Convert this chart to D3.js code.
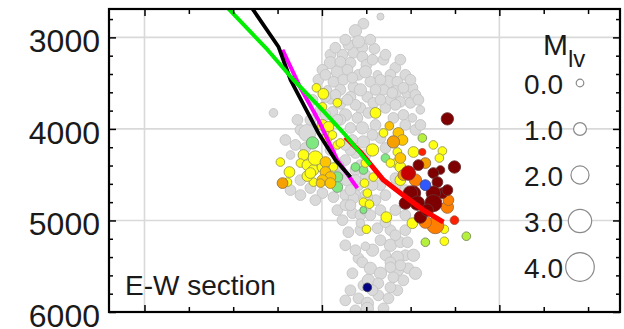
<!DOCTYPE html>
<html><head><meta charset="utf-8">
<script src="https://cdn.jsdelivr.net/npm/d3@7"></script>
<style>body{margin:0;background:#fff}svg{display:block;font-family:"Liberation Sans",Arial,sans-serif}</style>
</head><body><svg id="c" width="624" height="329"></svg>
<script>
// ---- data ----
const yTickValues = [3000, 4000, 5000, 6000];
const xGridValues = [0, 1000, 2000];
const legendMags = [0, 1, 2, 3, 4];
const legendLabels = ["0.0", "1.0", "2.0", "3.0", "4.0"];
const sectionLabel = "E-W section";
// events: [horizontal position (m), depth (m), magnitude Mlv]
const grayEvents = [
[1330,2773,-0.1],[1234,2850,0.6],[1189,2927,0.9],
[1048,3189,0.6],[1116,3189,0.6],[1178,3168,0.6],[1228,3113,0.6],[1296,3124,0.6],
[1048,3277,0.9],[1161,3277,0.6],[1228,3211,0.6],[1087,3376,0.9],[1144,3354,0.6],
[1206,3409,0.6],[1273,3485,0.6],[1313,3409,0.2],[1414,3332,0.6],[1386,3409,0.6],
[1375,3485,0.9],[1425,3485,0.6],[1065,3485,0.6],[1121,3463,0.6],[1178,3540,0.6],
[1104,3573,0.6],[1031,3573,0.2],[1347,3573,0.6],[1414,3595,0.9],[1482,3606,0.6],
[1442,3704,0.6],[1499,3715,0.6],[1256,3650,0.6],[1161,3650,0.6],[1290,3715,0.6],
[1217,3770,0.6],[1358,3770,0.6],[1104,3726,0.6],[1048,3682,0.2],
[992,3792,0.6],[1059,3814,0.6],[1132,3847,0.9],[1200,3880,0.6],[1262,3825,0.6],
[1403,3880,0.6],[1459,3847,0.6],[1510,3880,0.2],[1161,3989,0.6],[1228,3989,0.9],
[1302,3956,0.6],[1172,4121,0.6],[1234,4142,0.9],[1330,4099,0.6],[1189,4263,0.6],
[1245,4285,0.6],[1132,4340,0.6],[1189,4449,0.6],[1144,4559,0.9],[1206,4614,0.6],
[1132,4723,0.6],[1189,4723,0.6],[1330,4614,0.6],[1358,4723,0.6],[1302,4778,0.6],
[879,4011,0.6],[851,4175,0.6],[823,4285,0.2],[879,4559,0.6],[935,4646,0.6],
[1003,4701,0.6],[1065,4745,0.6],[1087,4887,0.6],[1172,4920,0.6],[1178,4756,0.6],
[1256,4745,0.6],[862,3901,0.6],[918,4044,1.8],[727,3825,0.2],
[1470,3956,0.6],[1527,4011,0.6],[1358,4208,0.6],[1285,4066,0.6],[1104,3901,0.6],
[1020,3847,0.6],[1386,3682,0.6],[1555,3792,0.2],[1217,4395,0.6],[1161,4230,0.6],
[1104,4449,0.6],[1132,4833,0.6],[1217,5106,0.6],[1386,5106,0.6],[1470,5106,0.6],
[1003,3354,0.6],[980,3463,0.6],[1251,3299,0.6],[1347,3244,0.6],[1470,3409,0.6],
[1510,3551,0.6],[1330,3682,0.6],[1189,3737,0.6],[1076,3628,0.6],[1414,3737,0.6],
[1527,3628,0.6],[1149,3080,0.6],[1273,3025,0.6],[1555,3956,0.6],[1245,4504,0.6],
[1161,4668,0.6],[1048,4230,0.6],[907,4208,0.6],[935,3901,0.6],[1414,4614,0.6],
[1217,4942,0.6],[1330,4887,0.6],[1132,5271,0.6],[1206,5413,0.6],[1470,5380,0.6],
[1425,5763,0.6],[1234,5709,0.6],[1189,5982,0.6],
[1076,3113,0.6],[1132,3025,0.6],[1206,3047,0.9],[1020,3409,0.6],[1104,3266,0.6],
[1285,3244,0.6],[1358,3189,0.6],[1442,3244,0.6],[1499,3463,0.6],[1544,3682,0.6],
[1020,3650,0.6],[1217,3573,0.9],[1302,3573,0.6],[1144,3682,0.6],[1397,3606,0.6],
[1459,3551,0.6],[1245,3376,0.9],[1172,3441,0.6],[1330,3463,0.6],[947,3682,0.6],
[1414,4537,0.6],[1470,4668,0.6],[1132,4175,0.6],[1087,3901,0.6],[1245,4723,0.6],
[1285,4614,0.6],[1189,4559,0.6],[1093,4395,0.6],[1161,4833,0.6],[1245,4887,0.6],
[1116,4997,0.6],[879,4723,0.6],[963,4778,0.6],[823,4668,0.6],[794,4121,0.6],
[1189,5325,0.6],[1285,5325,0.9],[1358,5380,0.6],[1228,5457,0.6],[1487,5523,0.6],
[1431,5544,0.6],[1161,5763,0.6],[1262,5654,0.9],[1347,5961,0.6],[1132,5873,0.6],
[1149,5128,0.6],[1245,5282,0.2],[1313,5085,0.6],[1358,5019,0.6],[1386,5271,0.9],
[1442,5238,0.6],[1482,5238,0.6],[1425,5402,0.9],[1516,5380,0.9],[1386,5457,0.6],
[1442,5490,0.6],[1386,5512,0.6],[1273,5523,0.9],[1330,5577,0.9],[1172,5577,0.6],
[1403,5621,0.6],[1459,5654,0.6],[1527,5577,0.9],[1386,5731,0.6],[1318,5687,0.6],
[1206,5851,0.6],[1256,5906,0.9],[1318,5818,0.6],[1375,5851,0.6],[1285,5763,0.6],
[1256,5961,0.9],[1414,5161,0.6],[1330,5216,0.6],[1414,4887,0.6],[1470,4942,0.6],
[1273,4942,0.6],[1217,5030,0.2]
];
const lightGreenEvents = [[947,4153,0.9],[1087,4526,0.6],[1087,4635,0.6],[1358,4318,0.2],[1234,4449,0.2],[1189,4416,0.2],[1234,4887,-0.1]];
const yellowGreenEvents = [[1566,4099,0.2],[1814,5172,0.2],[1583,5238,0.2]];
const yellowEvents = [
[969,3551,0.2],[1008,3617,0.6],[1087,3715,0.2],[1003,3759,0.2],[1302,3825,0.6],[1347,4044,0.2],
[1285,4230,0.9],[1425,4252,0.2],[1516,4252,0.6],[1414,4373,0.2],[1386,4373,0.2],[1628,4175,0.2],
[1679,4241,0.2],[1662,4318,0.2],[1003,3956,0.6],[1037,3978,0.6],[1031,4088,0.6],[1059,4066,0.2],
[1087,4175,0.2],[1104,4153,0.2],[896,4285,0.6],[879,4373,0.2],[918,4395,0.6],[952,4449,0.6],
[1003,4416,0.6],[952,4581,0.2],[918,4515,0.6],[963,4318,1.3],[766,4362,0.2],[817,4471,0.6],
[806,4581,0.2],[935,4482,0.6],[1290,4526,0.2],[1240,4592,0.2],[1442,4416,0.6],[1442,4559,0.6],
[1510,5030,0.6],[1690,5096,0.2],[1690,5227,0.2],[1234,4800,0.2],[1268,4822,0.2],[1363,4964,0.6],
[1251,5096,0.2],[1245,4373,0.2],[1256,4701,0.2],[1065,4416,0.2]
];
const goldEvents = [[1380,3967,0.2],[1431,4044,0.6],[1454,4121,0.6],[1020,4362,0.6],[1020,4471,0.6],[1048,4526,0.6],[1003,4559,0.6],[1048,4592,0.6],[992,4592,0.2],[1442,4318,0.6]];
const amberEvents = [[1403,4142,0.9],[778,4592,0.6],[1583,4373,0.6],[1459,4504,0.6]];
const orangeEvents = [[1639,5052,1.8],[1707,4855,0.9],[1583,5019,0.9],[1527,4559,0.9],[1713,4778,0.6]];
const redEvents = [[1566,4252,-0.1],[1747,4997,0.2]];
const crimsonEvents = [[1487,4482,1.3]];
const darkRedEvents = [[1707,3890,0.9],[1747,4416,0.9],[1544,4395,0.6],[1668,4449,0.2],[1628,4482,0.6],[1651,4581,0.6],[1679,4701,0.6],[1516,4701,1.3],[1628,4701,1.3],[1707,4668,0.6],[1628,4811,1.8],[1499,4701,1.3],[1538,4811,1.3],[1470,4811,0.9],[1555,4964,0.9],[1594,4887,0.9]];
const blueEvents = [[1583,4614,0.6]];
const navyEvents = [[1256,5731,0.2]];
// trend lines: [horizontal position (m), depth (m)]
const magentaLine = [[778,3135],[879,3551],[980,3902],[1087,4340],[1200,4646]];
const blackLine = [[592,2631],[608,2686],[755,3102],[823,3463],[980,4044],[1076,4340],[1161,4526]];
const redLine = [[1132,4088],[1217,4252],[1347,4559],[1442,4701],[1572,4887],[1685,5019]];
const greenLine = [[451,2631],[473,2686],[693,3135],[839,3463],[992,3770],[1132,4066],[1273,4395]];

// ---- layout ----
const L = 109, R = 620, T = 9, B = 312;
const svg = d3.select("#c");
const x = d3.scaleLinear().domain([-200, 2680]).range([L, R]);
const y = d3.scaleLinear().domain([2690, 6000]).range([T, B]);
const r = d3.scaleLinear().domain([0, 4]).range([3.8, 14.3]);

svg.append("defs").append("clipPath").attr("id","clip")
  .append("rect").attr("x",L).attr("y",T).attr("width",R-L).attr("height",B-T);

// grid
const grid = svg.append("g").attr("stroke","#d9d9d9").attr("stroke-width",1.6);
grid.selectAll("line.h").data(yTickValues.filter(v=>v<6000)).join("line")
  .attr("x1",L).attr("x2",R).attr("y1",d=>y(d)).attr("y2",d=>y(d));
grid.selectAll("line.v").data(xGridValues).join("line").attr("class","v")
  .attr("y1",T).attr("y2",B).attr("x1",d=>x(d)).attr("x2",d=>x(d));

// events
const plot = svg.append("g").attr("clip-path","url(#clip)");
const layers = [
  [grayEvents, "#dadada", "#c4c4c4"],
  [lightGreenEvents, "#80e880", "#7a9a7a"],
  [yellowGreenEvents, "#b4f03c", "#7a8a5a"],
  [yellowEvents, "#ffff14", "#9a9a50"],
  [goldEvents, "#ffc400", "#9a8a50"],
  [amberEvents, "#f5a000", "#907050"],
  [orangeEvents, "#ff8000", "#a06a40"],
  [redEvents, "#ff1e00", "#a05040"],
  [crimsonEvents, "#c80000", "#803030"],
  [darkRedEvents, "#7e0000", "#6a3030"],
  [blueEvents, "#3058ff", "#404890"],
  [navyEvents, "#000080", "#404060"]
];
layers.forEach(([data, fill, stroke]) => {
  plot.append("g").selectAll("circle").data(data).join("circle")
    .attr("cx", d => x(d[0])).attr("cy", d => y(d[1])).attr("r", d => r(d[2]))
    .attr("fill", fill).attr("stroke", stroke).attr("stroke-width", 0.9);
});

// lines
const line = d3.line().x(d => x(d[0])).y(d => y(d[1]));
[[magentaLine,"#ff00ff",4],[blackLine,"#000000",3.8],[redLine,"#ff0000",5],[greenLine,"#00ee00",4]]
  .forEach(([data,c,w]) => plot.append("path").datum(data).attr("d", line)
    .attr("fill","none").attr("stroke",c).attr("stroke-width",w).attr("stroke-linejoin","round"));

// axes (ticks inward)
const yMinor = d3.range(2800, 6000, 200).filter(v => v % 1000 !== 0);
const xMinor = d3.range(0, 2680, 250).filter(v => v % 1000 !== 0);
function styleAxis(g){ g.select(".domain").remove(); g.selectAll("line").attr("stroke","#000").attr("stroke-width",1.5); }
svg.append("g").attr("transform",`translate(${L},0)`)
  .call(d3.axisLeft(y).tickValues(yTickValues).tickFormat(d3.format("d")).tickSize(-7).tickPadding(9))
  .call(styleAxis)
  .call(g => g.selectAll("text").attr("font-size",32).attr("fill","#1a1a1a").attr("dy","0.44em")
     .attr("font-family","'Liberation Sans',Arial,sans-serif"));
svg.append("g").attr("transform",`translate(${L},0)`)
  .call(d3.axisLeft(y).tickValues(yMinor).tickSize(-4).tickFormat("")).call(styleAxis);
svg.append("g").attr("transform",`translate(${R},0)`)
  .call(d3.axisRight(y).tickValues(yTickValues).tickSize(-7).tickFormat("")).call(styleAxis);
svg.append("g").attr("transform",`translate(${R},0)`)
  .call(d3.axisRight(y).tickValues(yMinor).tickSize(-4).tickFormat("")).call(styleAxis);
svg.append("g").attr("transform",`translate(0,${T})`)
  .call(d3.axisTop(x).tickValues(xGridValues).tickSize(-7).tickFormat("")).call(styleAxis);
svg.append("g").attr("transform",`translate(0,${T})`)
  .call(d3.axisTop(x).tickValues(xMinor).tickSize(-5).tickFormat("")).call(styleAxis);
svg.append("g").attr("transform",`translate(0,${B})`)
  .call(d3.axisBottom(x).tickValues(xGridValues).tickSize(-7).tickFormat("")).call(styleAxis);
svg.append("g").attr("transform",`translate(0,${B})`)
  .call(d3.axisBottom(x).tickValues(xMinor).tickSize(-5).tickFormat("")).call(styleAxis);

// frame
svg.append("rect").attr("x",L).attr("y",T).attr("width",R-L).attr("height",B-T)
  .attr("fill","none").attr("stroke","#000").attr("stroke-width",2.2);

// section label
svg.append("text").attr("x",125).attr("y",295).attr("font-size",28).attr("fill","#1a1a1a").text(sectionLabel);

// legend
const lg = svg.append("g");
const mt = lg.append("text").attr("x",543).attr("y",55).attr("font-size",30).attr("fill","#1a1a1a");
mt.append("tspan").text("M");
mt.append("tspan").attr("font-size",24).attr("dy",12).text("lv");
const items = lg.selectAll("g.item").data(legendMags).join("g")
  .attr("transform",(d,i)=>`translate(0,${83 + i*46})`);
items.append("text").attr("x",563).attr("y",11).attr("text-anchor","end")
  .attr("font-size",28).attr("fill","#1a1a1a").text((d,i)=>legendLabels[i]);
items.append("circle").attr("cx",580).attr("cy",0).attr("r",d=>r(d))
  .attr("fill","#fff").attr("stroke","#8a8a8a").attr("stroke-width",1.2);
</script>
</body></html>
